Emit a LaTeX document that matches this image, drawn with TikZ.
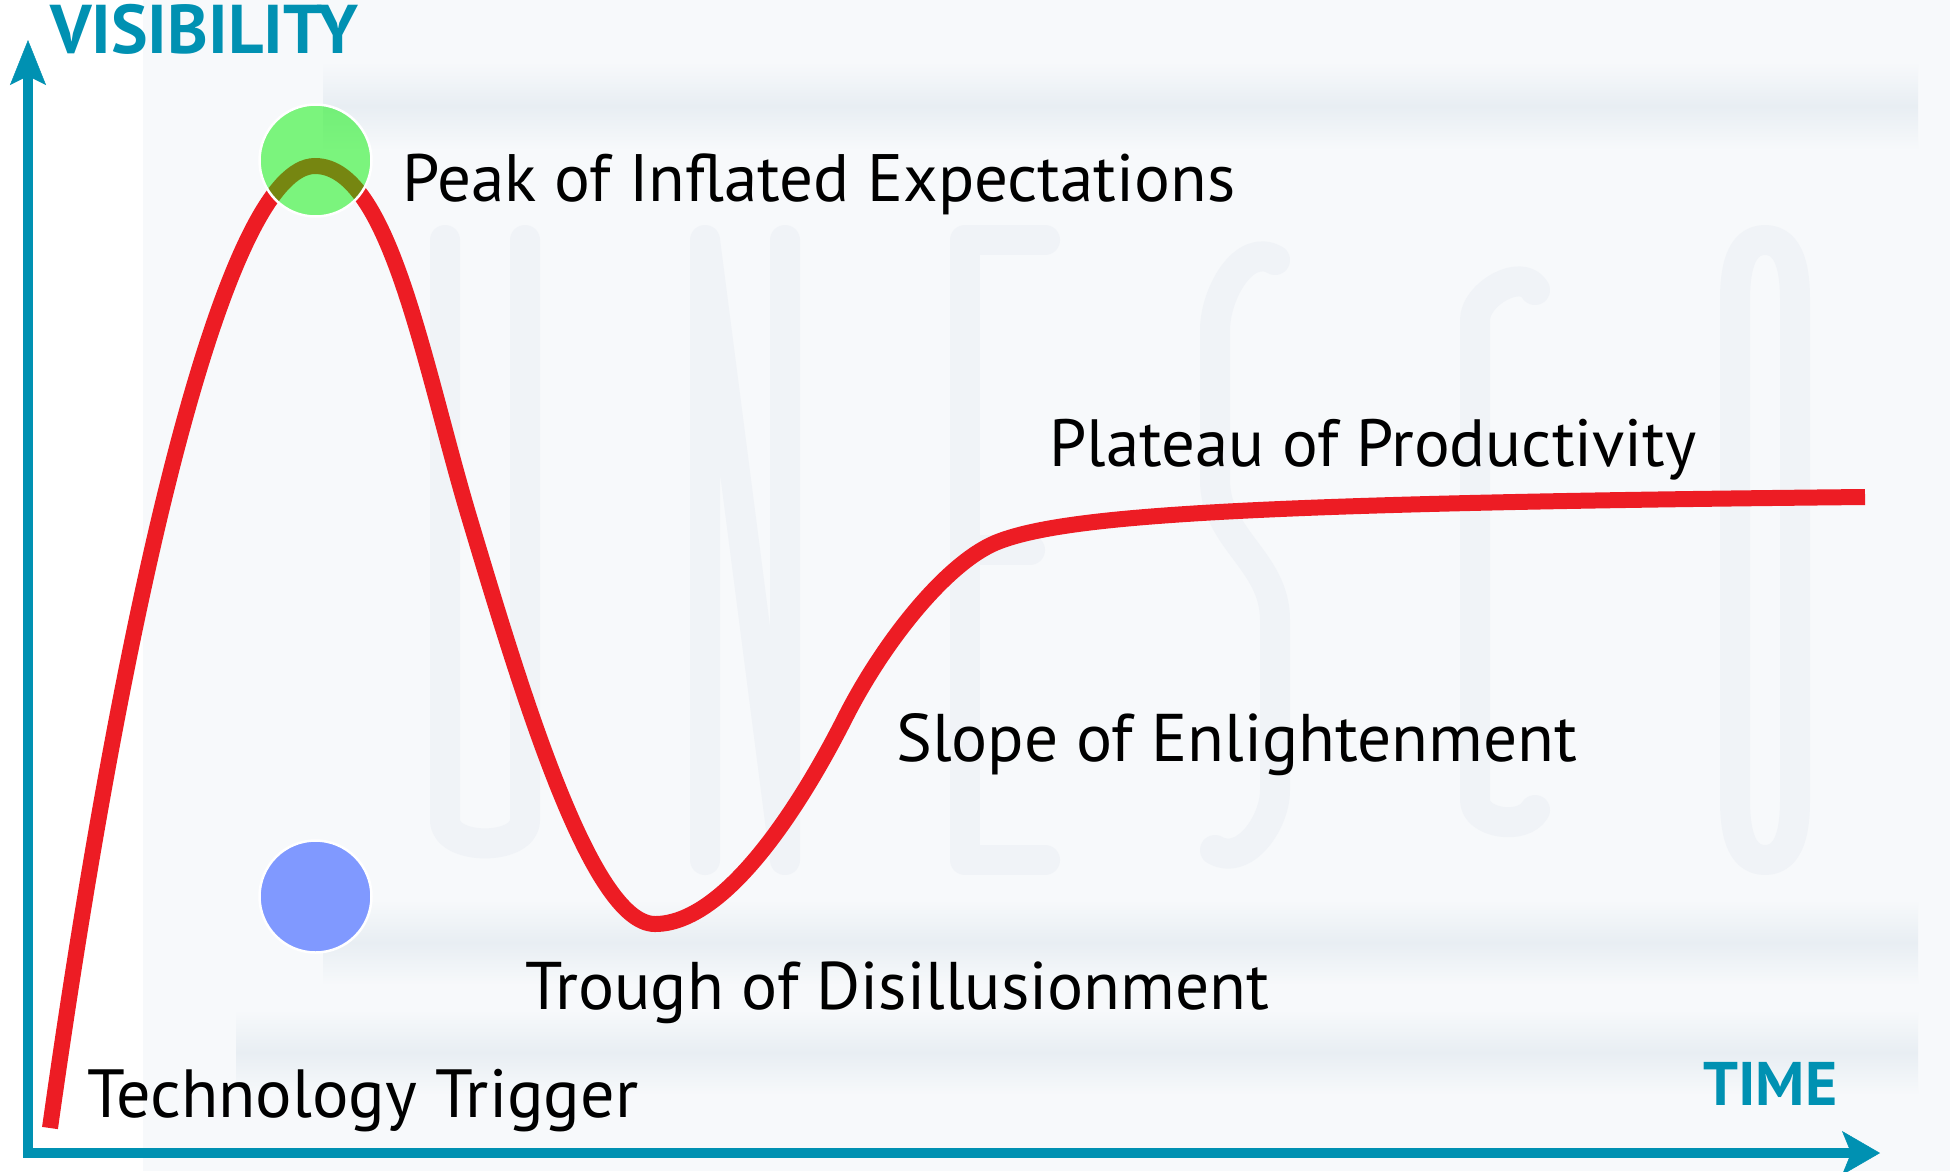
\documentclass[tikz,border=0pt]{standalone}
\usepackage{fontspec}
\setmainfont{PT Sans}
\usetikzlibrary{arrows.meta}
\definecolor{axisteal}{RGB}{0,145,178}
\definecolor{hypered}{RGB}{237,28,36}
\definecolor{peakgreen}{RGB}{0,240,0}
\definecolor{troughblue}{RGB}{128,153,255}
\definecolor{bgtint}{RGB}{247,249,251}
\definecolor{bgband}{RGB}{232,238,243}
\definecolor{wmark}{RGB}{240,243,247}
\tikzset{
  axisline/.style={draw=axisteal, line width=10pt, line join=miter},
  hypecurve/.style={draw=hypered, line width=16pt, line cap=butt},
  phase/.style={inner sep=0pt, anchor=base west, text=black},
  axislabel/.style={inner sep=0pt, anchor=base west, text=axisteal, font=\bfseries},
  dot/.style={circle, minimum size=112pt, inner sep=0pt, draw=white, line width=2.5pt},
  band/.style={top color=bgtint, bottom color=bgtint, middle color=bgband},
  wm/.style={draw=wmark, line width=30pt, line cap=round, line join=round}
}
\begin{document}
\begin{tikzpicture}[x=1pt,y=-1pt]
\useasboundingbox (0,0) rectangle (1950,1171);
\fill[white] (0,0) rectangle (1950,1171);
% faint watermark background
\fill[bgtint] (143,0) rectangle (1950,1171);
\shade[band] (323,62) rectangle (1918,150);
\shade[band] (323,900) rectangle (1918,985);
\shade[band] (236,1010) rectangle (1918,1095);
\draw[wm] (445,240) -- (445,820) to[out=-90,in=-90] (525,820) -- (525,240);
\draw[wm] (705,860) -- (705,240) -- (785,860) -- (785,240);
\draw[wm] (1045,240) -- (965,240) -- (965,860) -- (1045,860) (965,550) -- (1030,550);
\draw[wm] (1275,260) to[out=150,in=90] (1215,330) -- (1215,480) to[out=-90,in=90] (1275,620) -- (1275,790) to[out=-90,in=-30] (1215,850);
\draw[wm] (1535,290) to[out=120,in=90] (1475,320) -- (1475,800) to[out=-90,in=-120] (1535,810);
\draw[wm] (1765,240) to[out=0,in=90] (1795,300) -- (1795,800) to[out=-90,in=0] (1765,860) to[out=180,in=-90] (1735,800) -- (1735,300) to[out=90,in=180] (1765,240);
% axes
\coordinate (ytip) at (28,40);
\coordinate (origin) at (28,1153);
\coordinate (xtip) at (1880,1153);
\draw[axisline, arrows={Stealth[length=45pt,width=36pt,inset=9pt,line width=0.5pt]-Stealth[length=38pt,width=44pt,inset=9pt,line width=0.5pt]}] (ytip) -- (origin) -- (xtip);
\node[axislabel] (vis) at (50,53) {\resizebox{308pt}{!}{VISIBILITY}};
\node[axislabel] (time) at (1703,1105) {\resizebox{134pt}{!}{TIME}};
% hype curve
\coordinate (start) at (50,1128);
\coordinate (apex) at (315,166);
\coordinate (fall) at (470,520);
\coordinate (bottom) at (655,924);
\coordinate (rise) at (845,718);
\coordinate (knee) at (1000,541);
\coordinate (finish) at (1865,497);
\draw[hypecurve] (start)
  .. controls (130,560) and (230,166) .. (apex)
  .. controls (390,166) and (424,367) .. (fall)
  .. controls (519,683) and (590,924) .. (bottom)
  .. controls (725,924) and (800,807) .. (rise)
  .. controls (885,639) and (950,559) .. (knee)
  .. controls (1070,515) and (1250,503) .. (finish);
% phase markers
\node[dot, fill=peakgreen, fill opacity=0.5] (peakdot) at (315.5,160.5) {};
\node[dot, fill=troughblue] (troughdot) at (315.5,896.5) {};
% phase labels
\node[phase] (peak) at (402,201) {\resizebox{833pt}{!}{Peak of Inflated Expectations}};
\node[phase] (plateau) at (1049,466) {\resizebox{647pt}{!}{Plateau of Productivity}};
\node[phase] (slope) at (896,761) {\resizebox{681pt}{!}{Slope of Enlightenment}};
\node[phase] (trough) at (525,1009) {\resizebox{744pt}{!}{Trough of Disillusionment}};
\node[phase] (trigger) at (87,1117) {\resizebox{551pt}{!}{Technology Trigger}};
\end{tikzpicture}
\end{document}
